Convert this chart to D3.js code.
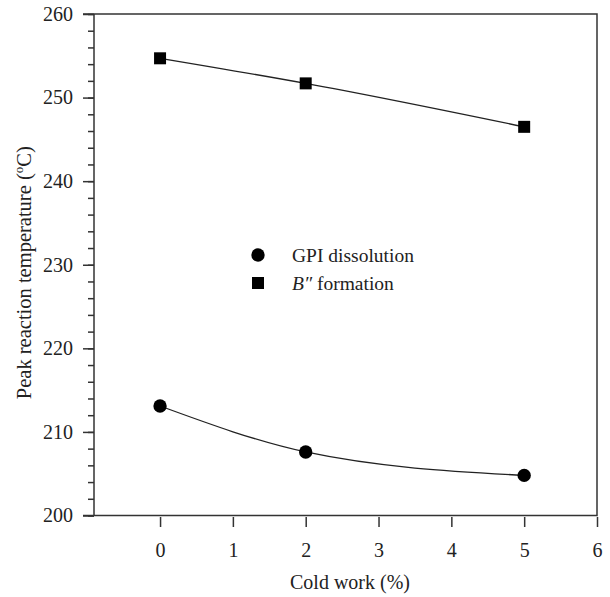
<!DOCTYPE html>
<html>
<head>
<meta charset="utf-8">
<script src="https://cdn.jsdelivr.net/npm/d3@7"></script>
<style>
  body { margin: 0; background: #fff; }
  text { font-family: "Liberation Serif", "Times New Roman", serif; fill: #222; }
</style>
</head>
<body>
<script>
// Data /////////////////////////////////////////////////////////////////////
const coldWork = [0, 2, 5];
const gpiDissolution = [213.1, 207.6, 204.8];
const bFormation = [254.7, 251.7, 246.5];
const xTicks = [0, 1, 2, 3, 4, 5, 6];
const yTicks = [200, 210, 220, 230, 240, 250, 260];
const yMinorTicks = d3.range(200, 261, 2);

const width = 610;
const height = 597;
const ink = "#333";
const fontSize = 20;

const x = d3.scaleLinear().domain([-0.907, 6]).range([94, 597]);
const y = d3.scaleLinear().domain([200, 260]).range([515.5, 14]);

const svg = d3
  .select("body")
  .append("svg")
  .attr("width", width)
  .attr("height", height);

drawFrame(svg);
drawYAxis(svg.append("g"));
drawXAxis(svg.append("g"));
drawSeries(svg, gpiDissolution, "circle");
drawSeries(svg, bFormation, "square");
drawLegend(svg.append("g"));
drawTitles(svg);

// Axes /////////////////////////////////////////////////////////////////////

function drawFrame(root) {
  root
    .append("path")
    .attr("d", `M83,${y(260)}H${x(6)}V${y(200)}H83M${x.range()[0]},${y(260)}V${y(200)}`)
    .attr("fill", "none")
    .attr("stroke", ink)
    .attr("stroke-width", 1.5);
}

function drawYAxis(root) {
  root
    .append("g")
    .attr("transform", `translate(${x.range()[0]},0)`)
    .call(d3.axisLeft(y).tickValues(yMinorTicks).tickSize(6).tickFormat(""))
    .call(styleAxis);

  root
    .append("g")
    .attr("transform", `translate(${x.range()[0]},0)`)
    .call(d3.axisLeft(y).tickValues(yTicks).tickSize(11).tickPadding(10))
    .call(styleAxis);
}

function drawXAxis(root) {
  root
    .attr("transform", `translate(0,517)`)
    .call(
      d3
        .axisBottom(x)
        .tickValues(xTicks)
        .tickFormat(d3.format("d"))
        .tickSize(10)
        .tickPadding(16)
    )
    .call(styleAxis);
}

function styleAxis(g) {
  g.select(".domain").remove();
  g.selectAll("line").attr("stroke", ink).attr("stroke-width", 1.5);
  g.selectAll("text")
    .attr("font-size", fontSize)
    .attr("fill", "#222")
    .style("font-family", '"Liberation Serif", serif');
}

// Series ///////////////////////////////////////////////////////////////////

function drawSeries(root, values, shape) {
  const points = coldWork.map((c, i) => [c, values[i]]);
  const line = d3
    .line()
    .x((d) => x(d[0]))
    .y((d) => y(d[1]))
    .curve(d3.curveMonotoneX);

  root
    .append("path")
    .attr("d", line(points))
    .attr("fill", "none")
    .attr("stroke", "#222")
    .attr("stroke-width", 1.3);

  const symbol = shape === "circle" ? d3.symbolCircle : d3.symbolSquare;
  const size = shape === "circle" ? 140 : 144;
  root
    .selectAll(null)
    .data(points)
    .join("path")
    .attr("transform", (d) => `translate(${x(d[0])},${y(d[1])})`)
    .attr("d", d3.symbol(symbol, size))
    .attr("fill", "#000");
}

// Legend ///////////////////////////////////////////////////////////////////

function drawLegend(root) {
  root
    .append("path")
    .attr("transform", "translate(258,255)")
    .attr("d", d3.symbol(d3.symbolCircle, 140))
    .attr("fill", "#000");
  root
    .append("text")
    .attr("x", 292)
    .attr("y", 262)
    .attr("font-size", 19.5)
    .text("GPI dissolution");

  root
    .append("path")
    .attr("transform", "translate(258,283)")
    .attr("d", d3.symbol(d3.symbolSquare, 144))
    .attr("fill", "#000");
  const t = root
    .append("text")
    .attr("x", 292)
    .attr("y", 290)
    .attr("font-size", 19.5);
  t.append("tspan").attr("font-style", "italic").text("B\u2033");
  t.append("tspan").text(" formation");
}

// Titles ///////////////////////////////////////////////////////////////////

function drawTitles(root) {
  root
    .append("text")
    .attr("x", 350)
    .attr("y", 589)
    .attr("text-anchor", "middle")
    .attr("font-size", fontSize)
    .text("Cold work (%)");

  const t = root
    .append("text")
    .attr("transform", `translate(31,${(y(200) + y(260)) / 2 + 8}) rotate(-90)`)
    .attr("text-anchor", "middle")
    .attr("font-size", 20.5);
  t.append("tspan").text("Peak reaction temperature (");
  t.append("tspan").attr("font-size", 13).attr("dy", -8).text("o");
  t.append("tspan").attr("dy", 8).text("C)");
}
</script>
</body>
</html>
